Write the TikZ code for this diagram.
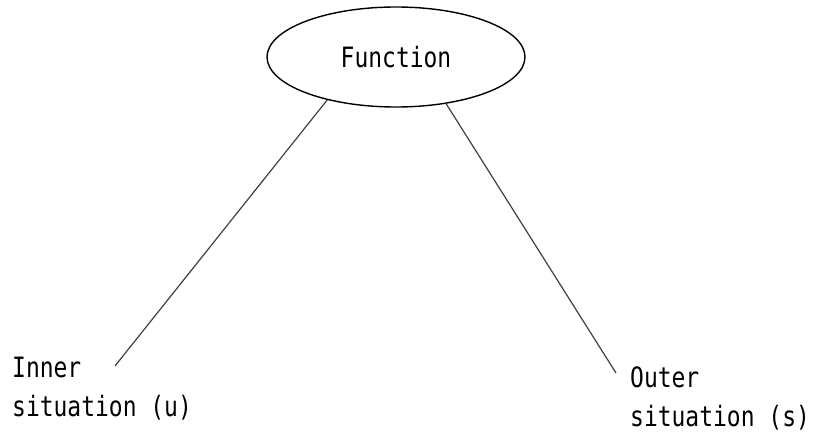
\documentclass[tikz,border=0pt]{standalone}
\usepackage{fontspec}
\newfontfamily\labelfont[FakeStretch=0.82]{DejaVu Sans Mono}
\usetikzlibrary{shapes.geometric}
\begin{document}
\begin{tikzpicture}[x=1pt, y=-1pt,
    labeltext/.style={font={\labelfont\fontsize{28}{39}\selectfont}, inner sep=0pt, align=left},
    branch/.style={line width=1.2pt, black!75}]
    \useasboundingbox (0,0) rectangle (813,433);

    % Function at the top
    \node[ellipse, draw, line width=1.4pt, minimum width=258pt, minimum height=100pt, labeltext] (fn) at (396,57) {Function};

    % Situations at the bottom
    \node[labeltext, anchor=north west] (inner) at (12,357) {Inner\\situation (u)};
    \node[labeltext, anchor=north west] (outer) at (630,367) {Outer\\situation (s)};

    % Free ends of the branches
    \coordinate (innertip) at (115,366);
    \coordinate (outertip) at (616,373);

    % Branches
    \draw[branch] (fn.212) -- (innertip);
    \draw[branch] (fn.317) -- (outertip);
\end{tikzpicture}
\end{document}
